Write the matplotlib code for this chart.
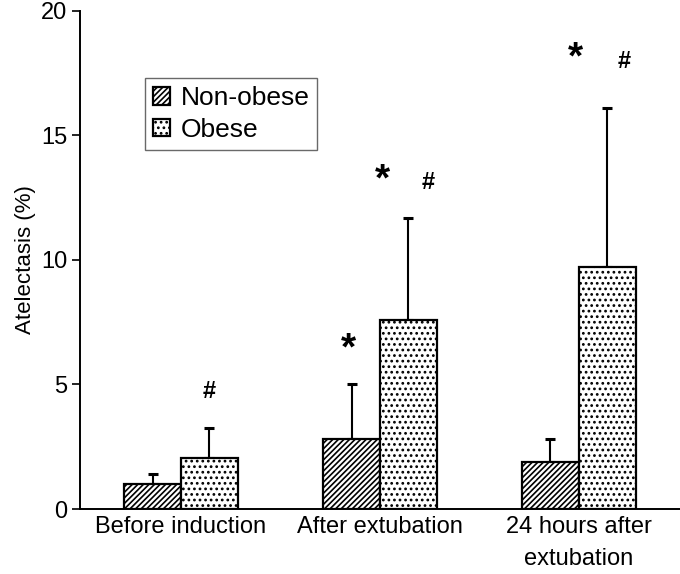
import numpy as np
import matplotlib
matplotlib.use('Agg')
import matplotlib.pyplot as plt

plt.rcParams['font.family'] = ['Liberation Sans', 'DejaVu Sans']
plt.rcParams['hatch.linewidth'] = 1.2

# data
groups = ['Before induction', 'After extubation', '24 hours after\nextubation']
non_obese = [1.0, 2.8, 1.9]
non_obese_err = [0.42, 2.2, 0.92]
obese = [2.05, 7.6, 9.7]
obese_err = [1.22, 4.1, 6.4]
# significance marks: (group, x offset from group centre, label, y)
marks = [(0, 0.14, '#', 4.7), (1, -0.16, '*', 6.4), (1, 0.01, '*', 13.2),
         (1, 0.24, '#', 13.1), (2, -0.015, '*', 18.1), (2, 0.226, '#', 17.95)]

fig = plt.figure(figsize=(6.8, 5.74), dpi=100)
ax = fig.add_axes([0.1176, 0.1132, 0.8824, 0.868])

x = np.arange(len(groups))
w = 0.286
ax.bar(x - w / 2, non_obese, w, color='white', edgecolor='black', linewidth=1.6,
       hatch='//////', label='Non-obese', zorder=2)
ax.bar(x + w / 2, obese, w, color='white', edgecolor='black', linewidth=1.6,
       hatch='...', label='Obese', zorder=2)
ax.errorbar(x - w / 2, non_obese, yerr=[np.zeros(3), non_obese_err], fmt='none',
            ecolor='black', elinewidth=1.5, capsize=3.5, capthick=2.2, zorder=1)
ax.errorbar(x + w / 2, obese, yerr=[np.zeros(3), obese_err], fmt='none',
            ecolor='black', elinewidth=1.5, capsize=3.5, capthick=2.2, zorder=1)

for g, dx, lab, y in marks:
    if lab == '*':
        ax.text(x[g] + dx, y, lab, fontsize=28, fontweight='bold', ha='center', va='center')
    else:
        ax.text(x[g] + dx, y, lab, fontsize=17, fontweight='bold', ha='center', va='center')

ax.set_xlim(-0.508, 2.508)
ax.set_ylim(0, 20)
ax.set_yticks([0, 5, 10, 15, 20])
ax.set_xticks(x)
ax.set_xticklabels(groups, fontsize=17, linespacing=1.6)
ax.tick_params(axis='y', labelsize=17, direction='out', length=6, width=1.2, pad=3)
ax.tick_params(axis='x', length=0, pad=5)
ax.set_ylabel('Atelectasis (%)', fontsize=16, labelpad=4)
ax.spines['top'].set_visible(False)
ax.spines['right'].set_visible(False)
ax.spines['left'].set_linewidth(1.4)
ax.spines['bottom'].set_linewidth(1.4)

leg = ax.legend(loc='upper left', bbox_to_anchor=(0.108, 0.865), fontsize=19,
                handlelength=0.65, handleheight=0.65, handletextpad=0.4,
                borderpad=0.3, borderaxespad=0, labelspacing=0.3,
                fancybox=False, edgecolor='#444444')
leg.get_frame().set_linewidth(1.0)

fig.savefig('out.png', dpi=100)
